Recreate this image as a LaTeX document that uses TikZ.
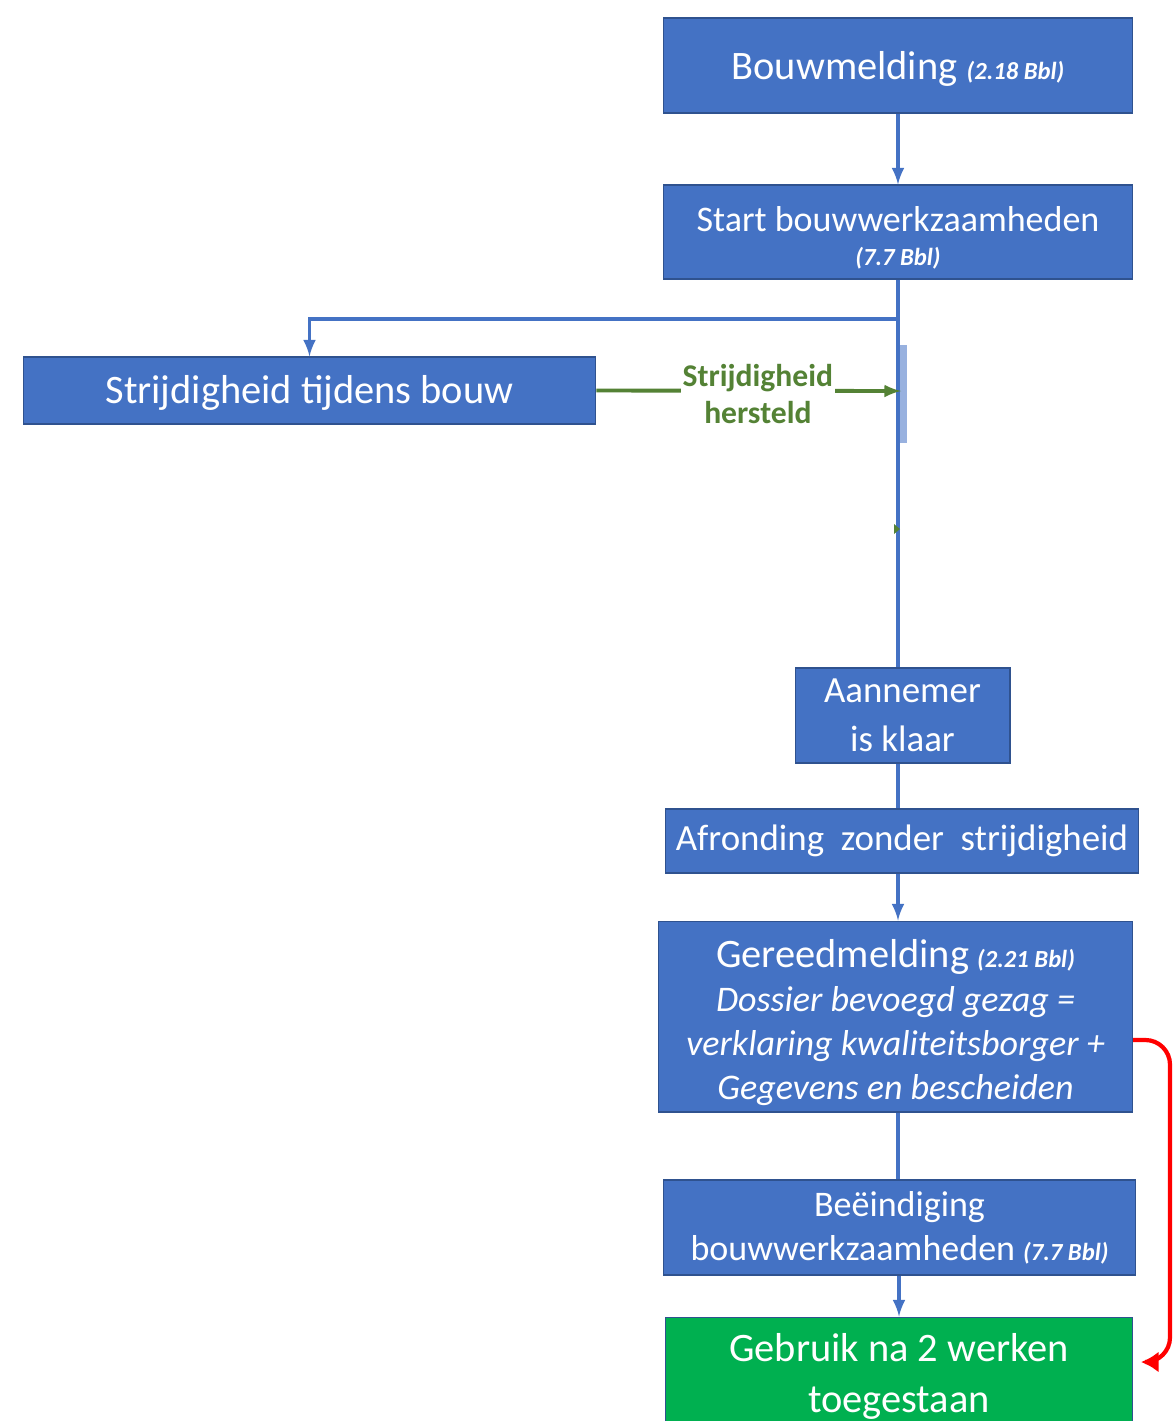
\documentclass[tikz,border=0pt]{standalone}
\usepackage{fontspec}
\setmainfont{Carlito}
\usetikzlibrary{arrows.meta}
\definecolor{boxblue}{HTML}{4472C4}
\definecolor{boxedge}{HTML}{2F528F}
\definecolor{okgreen}{HTML}{00B050}
\definecolor{labelgreen}{HTML}{548235}
\newcommand{\bbl}[1]{{\fontsize{14}{16}\selectfont\bfseries\itshape(#1 Bbl)}}
\newcommand{\groot}{\fontsize{23}{26}\selectfont}
\begin{document}
\begin{tikzpicture}[x=0.02cm, y=-0.02cm,
	stap/.style={draw=boxedge, fill=boxblue, text=white, align=center, inner sep=0pt, line width=0.6pt,
		font=\fontsize{20.5}{25}\selectfont},
	lijn/.style={draw=boxblue, line width=2.2pt},
	terug/.style={draw=red, line width=2.4pt, rounded corners=14pt}]
	\fill[white] (0,0) rectangle (1173,1421);
	\clip (0,0) rectangle (1173,1421);
	\node[stap, minimum width=9.4cm, minimum height=1.9cm, font=\groot] at (898,65.5)(bouw){\rule{0pt}{20pt}Bouwmelding \bbl{2.18}};
	\node[stap, minimum width=9.4cm, minimum height=1.88cm] at (898,232)(start){\rule{0pt}{21pt}Start bouwwerkzaamheden\\[-6pt]\bbl{7.7}};
	\node[stap, minimum width=11.46cm, minimum height=1.34cm, font=\groot] at (309.5,390.5)(strijd){\rule{0pt}{19pt}Strijdigheid tijdens bouw};
	\node[stap, minimum width=4.3cm, minimum height=1.9cm, font=\fontsize{21}{28}\selectfont] at (902.5,715.5)(klaar){Aannemer\\is klaar};
	\node[stap, minimum width=9.48cm, minimum height=1.28cm, font=\fontsize{21}{25}\selectfont] at (902,841)(afrond){Afronding\ \ zonder\ \ strijdigheid};
	\node[stap, minimum width=9.5cm, minimum height=3.82cm] at (895.5,1016.5)(gereed){\rule{0pt}{23pt}{\groot Gereedmelding} \bbl{2.21}\\
		\itshape Dossier bevoegd gezag =\\\itshape verklaring kwaliteitsborger +\\\itshape Gegevens en bescheiden};
	\node[stap, minimum width=9.46cm, minimum height=1.9cm] at (899.5,1227.5)(einde){Beëindiging\\bouwwerkzaamheden\ \bbl{7.7}};
	\node[stap, fill=okgreen, minimum width=9.36cm, minimum height=2.6cm, font=\fontsize{23}{29}\selectfont] at (899,1382)(gebruik){Gebruik na 2 werken\\toegestaan\rule[-10pt]{0pt}{10pt}};
	\coordinate (splits) at (898,319);
	\coordinate (hersteld) at (901,391);
	\coordinate (tip) at (900,529);
	\coordinate (rechts) at (1133,1040);
	\coordinate (pijl) at (1141,1362);
	% lichte balk op de hoofdlijn
	\fill[boxblue!55] (899,345) rectangle (907,443);
	\draw[lijn, -latex] (bouw.south) -- (start.north);
	\draw[lijn] (start.south) -- (start.south|-klaar.north);
	\draw[lijn, -latex] (splits) -| (strijd.north);
	\draw[lijn] (klaar.south-|start.south) -- (afrond.north-|start.south);
	\draw[lijn, -latex] (afrond.south-|start.south) -- (gereed.north-|start.south);
	\draw[lijn] (gereed.south-|start.south) -- (einde.north-|start.south);
	\draw[lijn, -latex] (einde.south-|gebruik.north) -- (gebruik.north);
	\draw[labelgreen, line width=2.2pt, -latex] (strijd.east) -- node[pos=0.53, fill=white, text=labelgreen, align=center, inner sep=1pt,
		font=\fontsize{18}{21}\selectfont\bfseries, yshift=-2pt]{Strijdigheid\\hersteld} (hersteld);
	\fill[labelgreen] (tip) -- ++(-6,-5) -- ++(0,10) -- cycle;
	\draw[terug, -{Latex[length=10pt, width=12pt]}] (rechts) -- (1170,1040) -- (1170,1362) -- (pijl);
\end{tikzpicture}
\end{document}
